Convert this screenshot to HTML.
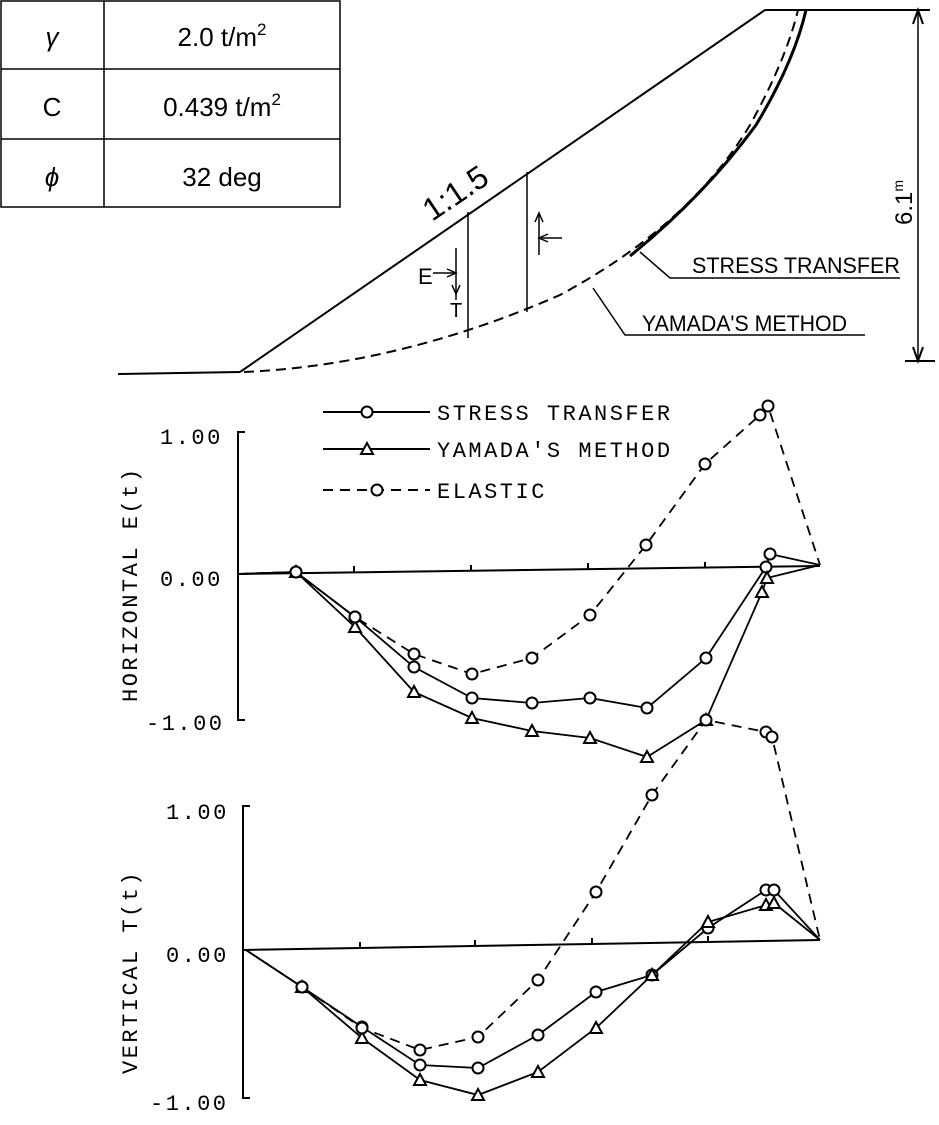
<!DOCTYPE html>
<html><head><meta charset="utf-8"><style>
body{margin:0;background:#fff;}
svg{display:block;font-family:"Liberation Mono",monospace;}
.t{font-family:"Liberation Sans","Noto Sans CJK JP",sans-serif;font-size:26px;}
</style></head><body>
<svg id="s" width="939" height="1125" viewBox="0 0 939 1125" xmlns="http://www.w3.org/2000/svg">
<g stroke="#000" stroke-width="1.5" fill="none">
<rect x="1" y="1" width="339" height="206"/>
<line x1="104" y1="1" x2="104" y2="207"/><line x1="1" y1="69" x2="340" y2="69"/><line x1="1" y1="139" x2="340" y2="139"/>
</g>
<g class="t" text-anchor="middle">
<text x="52" y="46" font-style="italic">γ</text><text x="222" y="46">2.0 t/m<tspan font-size="17" dy="-11">2</tspan></text>
<text x="52" y="116">C</text><text x="222" y="116">0.439 t/m<tspan font-size="17" dy="-11">2</tspan></text>
<text x="52" y="186" font-style="italic">ϕ</text><text x="222" y="186">32 deg</text>
</g>
<g stroke="#000" stroke-width="2" fill="none">
<line x1="118" y1="374" x2="240" y2="372"/>
<line x1="240" y1="372" x2="765" y2="10"/>
<line x1="765" y1="10" x2="930" y2="10"/>
<line x1="905" y1="361" x2="935" y2="361"/>
<line x1="918" y1="12" x2="918" y2="359" stroke-width="1.5"/>
<path d="M913 24 L918 10 L923 24 M913 347 L918 361 L923 347"/>
<path d="M244 372 Q400 365 560 295 Q690 225 750 125 Q786 60 798 10" stroke-dasharray="10,6"/>
<path d="M630 256 Q705 195 756 125 Q794 62 806 10" stroke-width="3"/>
<line x1="468" y1="212" x2="468" y2="338" stroke-width="1.5"/>
<line x1="527" y1="172" x2="527" y2="312" stroke-width="1.5"/>
<line x1="539" y1="213" x2="539" y2="255" stroke-width="1.5"/>
<line x1="539" y1="238" x2="562" y2="238" stroke-width="1.5"/>
<path d="M535 222 L539 213 L543 222 M548 234 L539 238 L548 242" stroke-width="1.5"/>
<line x1="456" y1="248" x2="456" y2="300" stroke-width="1.5"/>
<line x1="433" y1="273" x2="456" y2="273" stroke-width="1.5"/>
<path d="M447 269 L456 273 L447 277 M452 285 L456 294 L460 285" stroke-width="1.5"/>
<polyline points="640,252 670,278 900,278" stroke-width="1.5"/>
<polyline points="593,288 625,335 865,335" stroke-width="1.5"/>
</g>
<g font-family="Liberation Sans Narrow,Liberation Sans,sans-serif" font-size="22">
<text x="418" y="284">E</text><text x="450" y="317" font-size="20">T</text>
<text x="692" y="273" textLength="208" lengthAdjust="spacingAndGlyphs">STRESS TRANSFER</text>
<text x="642" y="331" textLength="205" lengthAdjust="spacingAndGlyphs">YAMADA'S METHOD</text>
<text transform="translate(432,222) rotate(-34)" font-size="32">1:1.5</text>
<text transform="translate(912,225) rotate(-90)" font-size="24">6.1<tspan font-size="14" dy="-9">m</tspan></text>
</g>
<g stroke="#000" stroke-width="2" fill="none">
<polyline points="245,432 238,432 238,720 245,720"/>
<line x1="238" y1="574" x2="820" y2="566"/>
<path d="M354 572v-6M471 571v-6M588 569v-6M705 568v-6"/>
<polyline points="250,806 243,806 243,1098 250,1098"/>
<line x1="243" y1="950" x2="820" y2="940"/>
<path d="M360 948v-6M475 946v-6M592 944v-6M708 942v-6"/>
<line x1="323" y1="412" x2="430" y2="412"/><line x1="323" y1="449" x2="430" y2="449"/><line x1="323" y1="490" x2="430" y2="490" stroke-dasharray="10,7"/>
</g>
<g font-size="22" letter-spacing="2.5">
<text x="437" y="420">STRESS TRANSFER</text>
<text x="437" y="457">YAMADA'S METHOD</text>
<text x="437" y="498">ELASTIC</text>
<text x="160" y="444">1.00</text><text x="160" y="586">0.00</text><text x="146" y="730">-1.00</text>
<text x="166" y="819">1.00</text><text x="166" y="962">0.00</text><text x="150" y="1110">-1.00</text>
<text transform="translate(137,702) rotate(-90)">HORIZONTAL E(t)</text>
<text transform="translate(137,1074) rotate(-90)">VERTICAL T(t)</text>
</g>
<g id="g" stroke="#000" stroke-width="2" fill="none"></g>
</svg>
<script>
var g=document.getElementById('g'),ns='http://www.w3.org/2000/svg';
function el(t,a){var e=document.createElementNS(ns,t);for(var k in a)e.setAttribute(k,a[k]);g.appendChild(e);return e;}
function series(pts,mark,dash,skip){
 el('polyline',{points:pts.map(p=>p.join(',')).join(' '),'stroke-dasharray':dash?'10,7':'none','stroke-width':1.8});
 pts.forEach((p,i)=>{if(skip.indexOf(i)>=0)return;
  if(mark=='c')el('circle',{cx:p[0],cy:p[1],r:5.5,fill:'#fff'});
  else el('polygon',{points:(p[0]-6)+','+(p[1]+5)+' '+(p[0]+6)+','+(p[1]+5)+' '+p[0]+','+(p[1]-6),fill:'#fff'});});
}
el('circle',{cx:367,cy:412,r:5.5,fill:'#fff'});
el('polygon',{points:'361,454 373,454 367,443',fill:'#fff'});
el('circle',{cx:377,cy:490,r:5.5,fill:'#fff'});
series([[238,574],[296,572],[355,617],[414,667],[472,698],[532,703],[590,698],[647,708],[706,658],[766,567],[770,554],[820,565]],'c',0,[0,11]);
series([[238,574],[296,572],[355,627],[414,692],[472,718],[532,731],[590,738],[647,757],[706,720],[762,592],[767,578],[820,565]],'t',0,[0,11]);
series([[238,574],[296,572],[355,617],[414,654],[472,674],[532,658],[590,615],[646,545],[705,464],[760,415],[768,406],[820,565]],'c',1,[0,11]);
series([[246,950],[302,987],[362,1027],[420,1065],[478,1068],[538,1035],[596,992],[652,975],[708,928],[766,890],[774,890],[820,940]],'c',0,[0,11]);
series([[246,950],[302,987],[362,1038],[420,1080],[478,1095],[538,1072],[596,1028],[652,975],[708,922],[766,905],[774,903],[820,940]],'t',0,[0,11]);
series([[246,950],[302,987],[362,1028],[420,1050],[478,1037],[538,980],[596,892],[652,795],[706,720],[766,732],[772,737],[820,940]],'c',1,[0,11]);
</script>
</body></html>
